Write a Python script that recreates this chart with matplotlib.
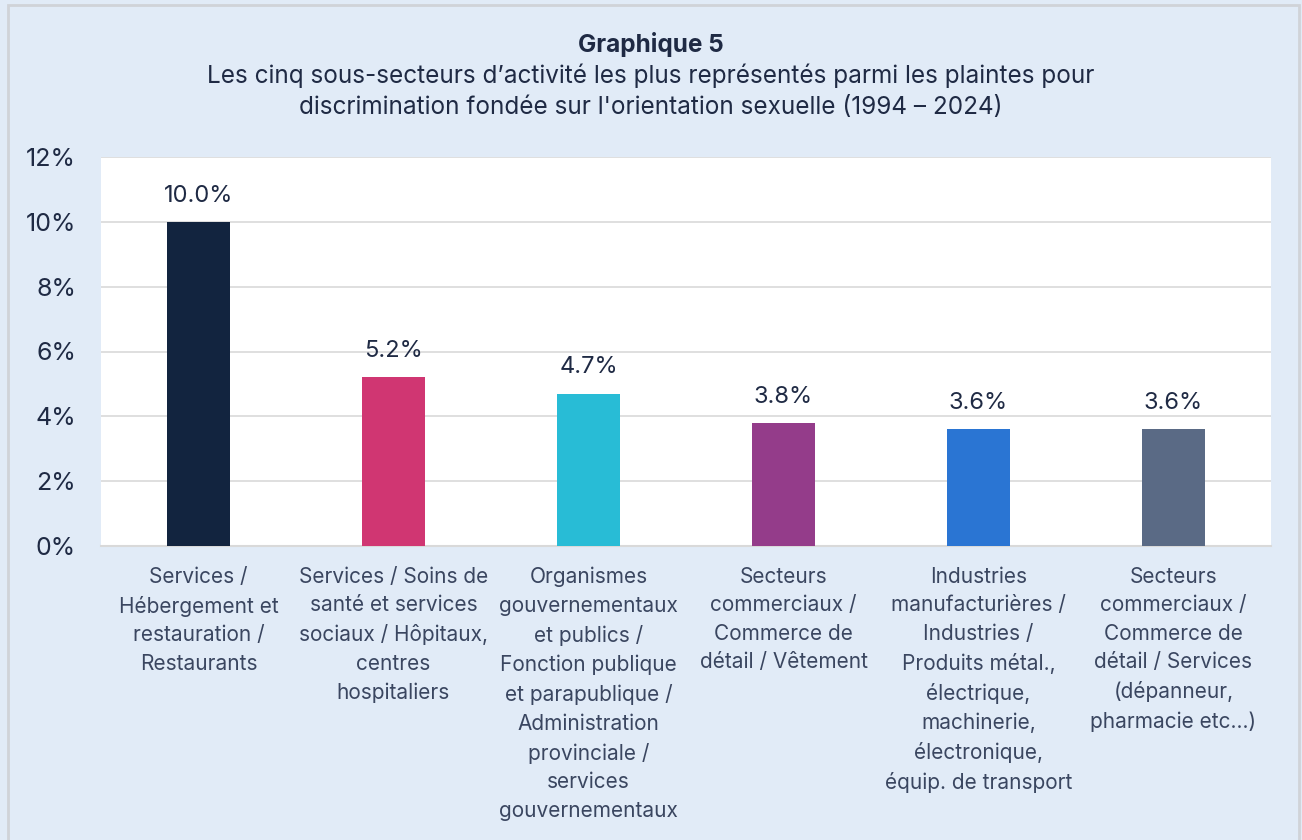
#!/usr/bin/env python3
"""Graphique 5 : sous-secteurs les plus représentés (orientation sexuelle)."""

import matplotlib
matplotlib.use("Agg")
import matplotlib.pyplot as plt
from matplotlib.patches import Rectangle
from matplotlib.ticker import FuncFormatter, MultipleLocator

categories = [
    "Services /\nHébergement et\nrestauration /\nRestaurants",
    "Services / Soins de\nsanté et services\nsociaux / Hôpitaux,\ncentres\nhospitaliers",
    "Organismes\ngouvernementaux\net publics /\nFonction publique\net parapublique /\nAdministration\nprovinciale /\nservices\ngouvernementaux",
    "Secteurs\ncommerciaux /\nCommerce de\ndétail / Vêtement",
    "Industries\nmanufacturières /\nIndustries /\nProduits métal.,\nélectrique,\nmachinerie,\nélectronique,\néquip. de transport",
    "Secteurs\ncommerciaux /\nCommerce de\ndétail / Services\n(dépanneur,\npharmacie etc...)",
]
values = [10.0, 5.2, 4.7, 3.8, 3.6, 3.6]
bar_colors = ["#12243F", "#D03672", "#28BCD6", "#943C8A", "#2A75D3", "#5A6A85"]

title = "Graphique 5"
subtitle = ("Les cinq sous-secteurs d\u2019activité les plus représentés parmi les plaintes pour\n"
            "discrimination fondée sur l'orientation sexuelle (1994 \u2013 2024)")

BG = "#E1EBF7"
TEXT = "#1F2A44"
LABEL = "#3A4660"

plt.rcParams["font.family"] = ["Inter", "DejaVu Sans"]

fig = plt.figure(figsize=(13.02, 8.4), dpi=100, facecolor=BG)
fig.patches.append(Rectangle((0.006, -0.01), 0.992, 1.004, transform=fig.transFigure,
                             fill=False, edgecolor="#D0D3D8", linewidth=2))

W, H = 1302, 840
ax = fig.add_axes([101 / W, 1 - 546 / H, (1271 - 101) / W, (546 - 157) / H])
ax.set_facecolor("white")

x = range(len(values))
ax.bar(x, values, width=0.32, color=bar_colors, zorder=3)
for xi, v in zip(x, values):
    ax.annotate(f"{v:.1f}%", (xi, v), xytext=(0, 11), textcoords="offset points",
                ha="center", va="bottom", fontsize=17, color=TEXT)

ax.set_xlim(-0.5, len(values) - 0.5)
ax.set_ylim(0, 12)
ax.yaxis.set_major_locator(MultipleLocator(2))
ax.yaxis.set_major_formatter(FuncFormatter(lambda v, _: f"{v:.0f}%"))
ax.grid(axis="y", color="#D9D9D9", linewidth=1.2, zorder=0)
ax.set_xticks(list(x))
ax.set_xticklabels(categories, fontsize=15, color=LABEL, linespacing=1.53, va="top")
ax.tick_params(axis="x", length=0, pad=15)
ax.tick_params(axis="y", length=0, pad=18, labelsize=18, labelcolor=TEXT)
for s in ["top", "left", "right"]:
    ax.spines[s].set_visible(False)
ax.spines["bottom"].set_color("#D9D9D9")
ax.spines["bottom"].set_linewidth(1.5)

fig.text(0.5, 1 - 44.5 / H, title, ha="center", va="center", fontsize=17.5,
         fontweight="bold", color=TEXT)
fig.text(0.5, 1 - 91.5 / H, subtitle, ha="center", va="center", fontsize=17.5,
         color=TEXT, linespacing=1.47)

fig.savefig("out.png", dpi=100, facecolor=BG)
